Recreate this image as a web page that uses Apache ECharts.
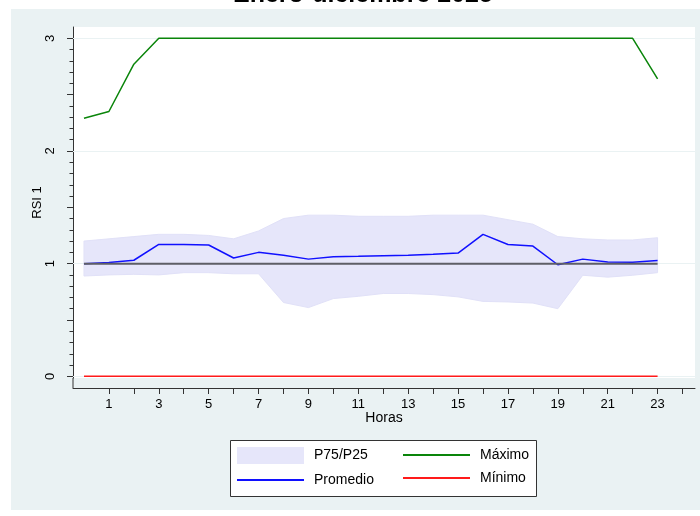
<!DOCTYPE html>
<html>
<head>
<meta charset="utf-8">
<script src="https://cdn.jsdelivr.net/npm/echarts@6/dist/echarts.min.js"></script>
<style>
  html, body { margin: 0; padding: 0; background: #fff; }
  #chart { width: 700px; height: 516px; }
</style>
</head>
<body>
<div id="chart"></div>
<script>
// horas del dia
var horas = [0, 1, 2, 3, 4, 5, 6, 7, 8, 9, 10, 11, 12, 13, 14, 15, 16, 17, 18, 19, 20, 21, 22, 23];

// series
var promedio = [1.00, 1.01, 1.03, 1.17, 1.17, 1.165, 1.05, 1.10, 1.075, 1.04, 1.062, 1.065,
                1.07, 1.074, 1.083, 1.094, 1.26, 1.17, 1.156, 0.99, 1.04, 1.015, 1.012, 1.027];
var p75 = [1.20, 1.22, 1.24, 1.26, 1.26, 1.25, 1.22, 1.29, 1.40, 1.43, 1.43, 1.42,
           1.42, 1.42, 1.43, 1.43, 1.43, 1.39, 1.35, 1.24, 1.22, 1.21, 1.21, 1.23];
var p25 = [0.89, 0.90, 0.905, 0.90, 0.92, 0.92, 0.91, 0.91, 0.655, 0.61, 0.69, 0.71,
           0.735, 0.735, 0.725, 0.705, 0.665, 0.66, 0.65, 0.60, 0.897, 0.88, 0.897, 0.92];
var maximo = [2.29, 2.35, 2.77, 3, 3, 3, 3, 3, 3, 3, 3, 3,
              3, 3, 3, 3, 3, 3, 3, 3, 3, 3, 3, 2.64];
var minimo = [0, 0, 0, 0, 0, 0, 0, 0, 0, 0, 0, 0,
              0, 0, 0, 0, 0, 0, 0, 0, 0, 0, 0, 0];
var referencia = [1, 1, 1, 1, 1, 1, 1, 1, 1, 1, 1, 1,
                  1, 1, 1, 1, 1, 1, 1, 1, 1, 1, 1, 1];

// ticks
var xEtiquetas = [1, 3, 5, 7, 9, 11, 13, 15, 17, 19, 21, 23];
var xTicks = [1, 2, 3, 4, 5, 6, 7, 8, 9, 10, 11, 12, 13, 14, 15, 16, 17, 18, 19, 20, 21, 22, 23, 24];
var yEtiquetas = [0, 1, 2, 3];
var yTicks = [0, 0.5, 1, 1.5, 2, 2.5, 3];
var yTicksMenores = [];
for (var i = 0; i <= 30; i++) yTicksMenores.push(i / 10);

function pares(vals) {
  return horas.map(function (h, i) { return [h, vals[i]]; });
}

var fuente = 'Liberation Sans, Arial, sans-serif';
var linea = 'path://M0,0H67V2H0Z';
var chart = echarts.init(document.getElementById('chart'));

chart.setOption({
  animation: false,
  textStyle: { fontFamily: fuente, color: '#000' },
  title: {
    text: 'Enero-diciembre 2025',
    left: 228,
    top: -22,
    textStyle: { fontSize: 25, fontWeight: 'bold', color: '#000', fontFamily: fuente }
  },
  graphic: [
    // fondo del grafico
    { type: 'rect', z: -10, shape: { x: 11, y: 9, width: 700, height: 501 }, style: { fill: '#eaf2f3' } },
    // tramo del eje y bajo la region
    { type: 'line', z: 5, shape: { x1: 73, y1: 378, x2: 73, y2: 388 }, style: { stroke: '#333', lineWidth: 1 } },
    // caja de leyenda
    { type: 'rect', z: 1, shape: { x: 230.5, y: 440.5, width: 306, height: 56 }, style: { fill: '#fff', stroke: '#333', lineWidth: 1 } }
  ],
  grid: {
    left: 73, right: 5, top: 27, bottom: 138,
    show: true, backgroundColor: '#fff', borderWidth: 0
  },
  legend: [
    {
      left: 237, top: 447, orient: 'vertical', padding: 0,
      itemWidth: 67, itemHeight: 17, itemGap: 9,
      textStyle: { fontSize: 14, fontFamily: fuente, color: '#000', padding: [0, 0, 0, 5] },
      selectedMode: false,
      data: [
        { name: 'P75/P25', icon: 'rect', itemStyle: { color: '#e6e6fa' } },
        { name: 'Promedio', icon: linea, itemStyle: { color: '#1010ff' } }
      ]
    },
    {
      left: 403, top: 448, orient: 'vertical', padding: 0,
      itemWidth: 67, itemHeight: 17, itemGap: 9,
      textStyle: { fontSize: 14, fontFamily: fuente, color: '#000', padding: [0, 0, 0, 5] },
      selectedMode: false,
      data: [
        { name: 'Máximo', icon: linea, itemStyle: { color: '#0a850a' } },
        { name: 'Mínimo', icon: linea, itemStyle: { color: '#ff1a1a' } }
      ]
    }
  ],
  xAxis: {
    type: 'value',
    min: -0.44, max: 24.5,
    offset: 10,
    name: 'Horas',
    nameLocation: 'middle',
    nameGap: 23,
    nameMoveOverlap: false,
    nameTextStyle: { fontSize: 14, color: '#000', fontFamily: fuente },
    axisLine: { show: true, onZero: false, lineStyle: { color: '#333', width: 1 } },
    axisTick: { show: true, length: 6, customValues: xTicks, lineStyle: { color: '#333' } },
    axisLabel: { customValues: xEtiquetas, fontSize: 13, color: '#000', margin: 10, fontFamily: fuente },
    splitLine: { show: false }
  },
  yAxis: [
    {
      type: 'value',
      min: -0.015, max: 3.1,
      name: 'RSI 1',
      nameLocation: 'middle',
      nameGap: 29,
      nameMoveOverlap: false,
      nameTextStyle: { fontSize: 13, color: '#000', fontFamily: fuente },
      axisLine: { show: true, onZero: false, lineStyle: { color: '#333', width: 1 } },
      axisTick: { show: true, length: 6, customValues: yTicks, lineStyle: { color: '#333' } },
      axisLabel: {
        customValues: yEtiquetas, rotate: 90, fontSize: 13, color: '#000',
        margin: 23, align: 'center', verticalAlign: 'middle', fontFamily: fuente
      },
      splitLine: { show: false }
    },
    {
      type: 'value',
      min: -0.015, max: 3.1,
      position: 'left',
      axisLine: { show: false, onZero: false },
      axisTick: { show: true, length: 3.5, customValues: yTicksMenores, lineStyle: { color: '#333' } },
      axisLabel: { show: false },
      splitLine: { show: false }
    }
  ],
  series: [
    {
      // banda P75/P25
      name: 'P75/P25',
      type: 'custom',
      silent: true,
      itemStyle: { color: '#e6e6fa' },
      data: [[0, 1]],
      renderItem: function (params, api) {
        var pts = [];
        horas.forEach(function (h, i) { pts.push(api.coord([h, p75[i]])); });
        for (var j = horas.length - 1; j >= 0; j--) pts.push(api.coord([horas[j], p25[j]]));
        return {
          type: 'polygon',
          shape: { points: pts },
          style: { fill: '#e6e6fa', stroke: '#e1e1f8', lineWidth: 1 }
        };
      },
      markLine: {
        silent: true,
        z: 1,
        symbol: 'none',
        label: { show: false },
        lineStyle: { color: '#eaf2f3', width: 1, type: 'solid' },
        data: yEtiquetas.map(function (v) { return { yAxis: v }; })
      }
    },
    {
      name: 'Promedio',
      type: 'line',
      symbol: 'none',
      lineStyle: { color: '#1010ff', width: 1.5 },
      itemStyle: { color: '#1010ff' },
      data: pares(promedio)
    },
    {
      name: 'referencia',
      type: 'line',
      symbol: 'none',
      silent: true,
      lineStyle: { color: '#5e5e66', width: 2 },
      data: pares(referencia)
    },
    {
      name: 'Máximo',
      type: 'line',
      symbol: 'none',
      lineStyle: { color: '#0a850a', width: 1.5 },
      itemStyle: { color: '#0a850a' },
      data: pares(maximo)
    },
    {
      name: 'Mínimo',
      type: 'line',
      symbol: 'none',
      lineStyle: { color: '#ff1a1a', width: 1.5 },
      itemStyle: { color: '#ff1a1a' },
      data: pares(minimo)
    }
  ]
});
</script>
</body>
</html>
